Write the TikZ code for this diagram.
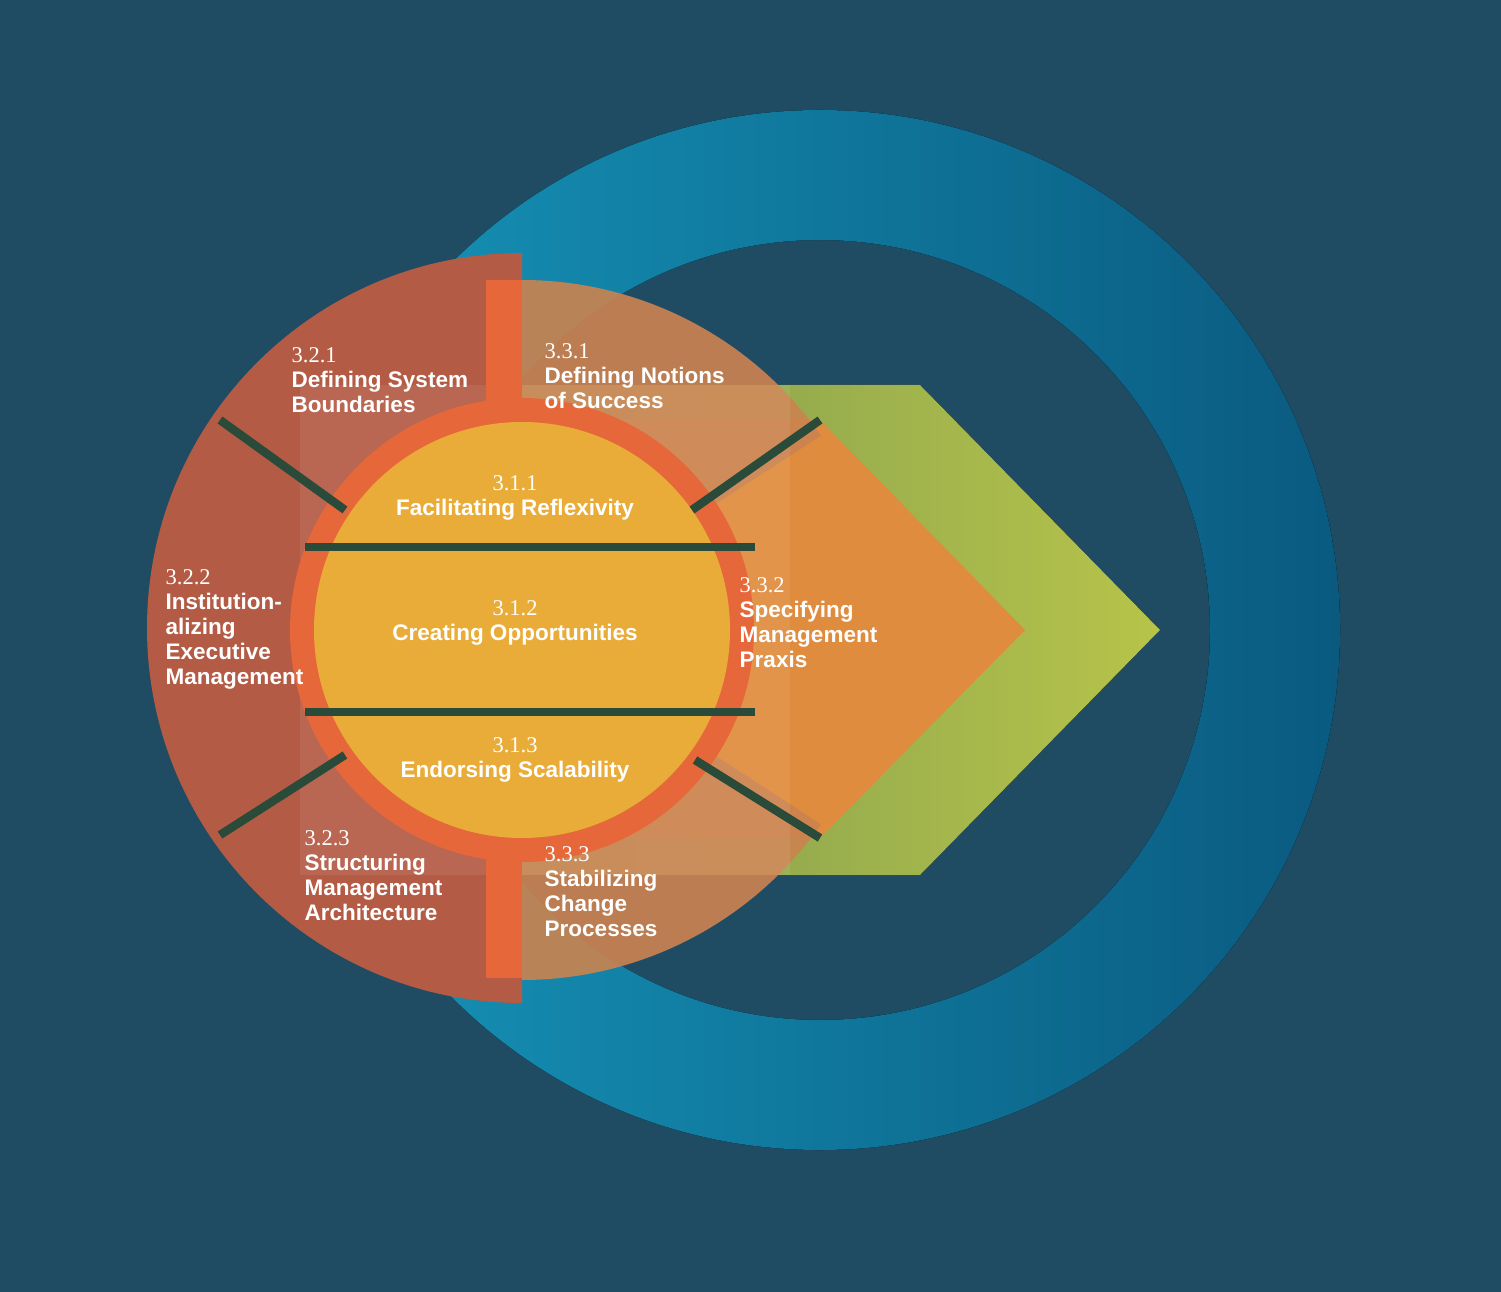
\documentclass[tikz,border=0pt]{standalone}
\usepackage{fontspec}
\setmainfont{Liberation Sans}
\newfontfamily\numfont{Liberation Serif}
\definecolor{bgblue}{HTML}{1F4C63}
\definecolor{ringlight}{HTML}{1694B8}
\definecolor{ringdark}{HTML}{0A5A80}
\definecolor{greenl}{HTML}{7E9A50}
\definecolor{greenr}{HTML}{B7C44A}
\definecolor{arroworange}{HTML}{E08C3E}
\definecolor{leftred}{HTML}{B45B45}
\definecolor{rightorange}{HTML}{CC8350}
\definecolor{ringorange}{HTML}{E6683A}
\definecolor{coreyellow}{HTML}{EAAC38}
\definecolor{gapdark}{HTML}{2A4A3A}
\tikzset{
  lbl/.style={text=white,font=\fontsize{6.4}{7.1}\selectfont\bfseries,align=left,anchor=north west,inner sep=0pt},
  clbl/.style={text=white,font=\fontsize{6.4}{7.1}\selectfont\bfseries,align=center,inner sep=0pt},
  gap/.style={draw=gapdark,line width=2.4pt}
}
\begin{document}
\begin{tikzpicture}[x=0.01cm,y=-0.01cm]
\fill[bgblue] (0,0) rectangle (1501,1292);
\useasboundingbox (0,0) rectangle (1501,1292);
% blue ring
\fill[even odd rule,left color=ringlight,right color=ringdark]
  (820,630) circle (520) (820,630) circle (390);
% green arrow
\fill[left color=greenl,right color=greenr] (520,385) -- (920,385) -- (1160,630) -- (920,875) -- (520,875) -- cycle;
% orange arrow
\fill[arroworange] (520,420) -- (820,420) -- (1025,630) -- (820,838) -- (520,838) -- cycle;
% half disks
\fill[leftred] (522,253) arc (-90:-270:375) -- cycle;
\fill[rightorange,opacity=0.9] (522,280) arc (-90:-35:365) -- (522,630) -- cycle;
\fill[rightorange,opacity=0.9] (522,980) arc (90:35:365) -- (522,630) -- cycle;
\fill[white,opacity=0.07] (300,385) rectangle (790,875);
% vertical bars
\fill[ringorange] (486,280) rectangle (522,435);
\fill[ringorange] (486,825) rectangle (522,978);
% inner ring and core
\fill[ringorange] (522,630) circle (232);
\fill[coreyellow] (522,630) circle (208);
% gaps
\draw[gap] (220,420) -- (345,510);
\draw[gap] (220,835) -- (345,755);
\draw[gap] (820,420) -- (692,510);
\draw[gap] (820,838) -- (695,760);
\draw[gap] (305,547) -- (755,547);
\draw[gap] (305,712) -- (755,712);
% labels
\node[lbl] (s321) at (291,347) {{\numfont\mdseries 3.2.1}\\Defining System\\Boundaries};
\node[lbl] (s331) at (544,343) {{\numfont\mdseries 3.3.1}\\Defining Notions\\of Success};
\node[lbl] (s322) at (165,569) {{\numfont\mdseries 3.2.2}\\Institution-\\alizing\\Executive\\Management};
\node[lbl] (s332) at (739,577) {{\numfont\mdseries 3.3.2}\\Specifying\\Management\\Praxis};
\node[lbl] (s323) at (304,830) {{\numfont\mdseries 3.2.3}\\Structuring\\Management\\Architecture};
\node[lbl] (s333) at (544,846) {{\numfont\mdseries 3.3.3}\\Stabilizing\\Change\\Processes};
\node[clbl] (s311) at (515,498) {{\numfont\mdseries 3.1.1}\\Facilitating Reflexivity};
\node[clbl] (s312) at (515,623) {{\numfont\mdseries 3.1.2}\\Creating Opportunities};
\node[clbl] (s313) at (515,760) {{\numfont\mdseries 3.1.3}\\Endorsing Scalability};
\end{tikzpicture}
\end{document}
